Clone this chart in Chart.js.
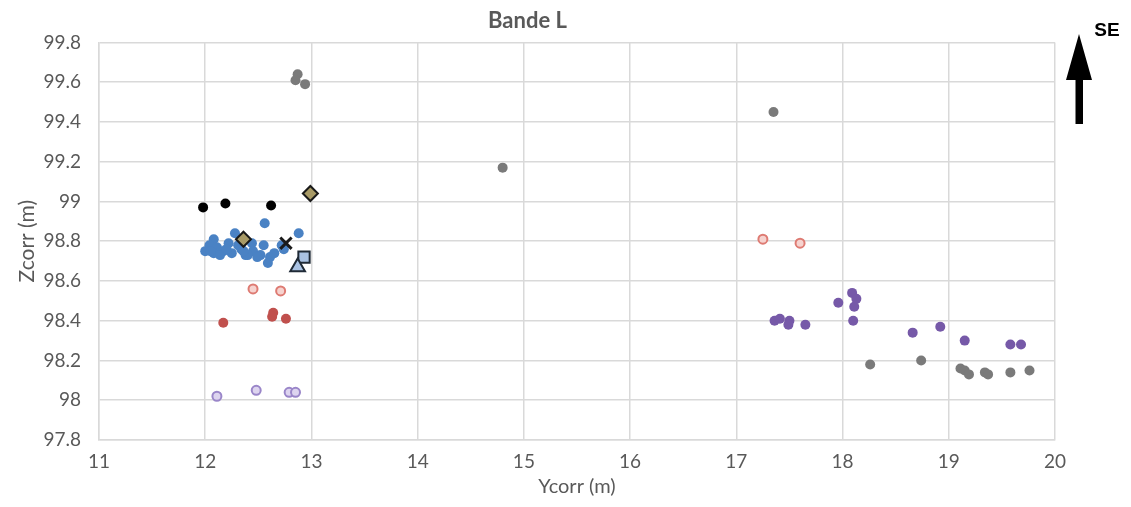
<!DOCTYPE html>
<html>
<head>
<meta charset="utf-8">
<script src="https://cdn.jsdelivr.net/npm/chart.js@4/dist/chart.umd.min.js"></script>
<style>
  html, body { margin: 0; padding: 0; background: #ffffff; }
  #wrap { width: 1131px; height: 507px; }
</style>
</head>
<body>
<div id="wrap"><canvas id="chart" width="1131" height="507"></canvas></div>
<script>
const xTicks = [11, 12, 13, 14, 15, 16, 17, 18, 19, 20];
const yTicks = [97.8, 98, 98.2, 98.4, 98.6, 98.8, 99, 99.2, 99.4, 99.6, 99.8];

// [Ycorr, Zcorr] pairs
const greyPts = [
  [12.87, 99.64], [12.85, 99.61], [12.94, 99.59], [14.80, 99.17], [17.35, 99.45],
  [18.26, 98.18], [18.74, 98.20], [19.11, 98.16], [19.15, 98.15], [19.19, 98.13],
  [19.34, 98.14], [19.37, 98.13], [19.58, 98.14], [19.76, 98.15]
];
const purplePts = [
  [17.36, 98.40], [17.41, 98.41], [17.50, 98.40], [17.49, 98.38], [17.65, 98.38],
  [17.96, 98.49], [18.09, 98.54], [18.13, 98.51], [18.11, 98.47], [18.10, 98.40],
  [18.66, 98.34], [18.92, 98.37], [19.15, 98.30], [19.58, 98.28], [19.68, 98.28]
];
const salmonOpenPts = [[17.25, 98.81], [17.60, 98.79], [12.45, 98.56], [12.71, 98.55]];
const redPts = [[12.17, 98.39], [12.64, 98.44], [12.63, 98.42], [12.76, 98.41]];
const lavenderOpenPts = [[12.11, 98.02], [12.48, 98.05], [12.79, 98.04], [12.85, 98.04]];
const blackPts = [[11.98, 98.97], [12.19, 98.99], [12.62, 98.98]];
const bluePts = [
  [12.56, 98.89], [12.28, 98.84], [12.88, 98.84], [12.08, 98.81], [12.22, 98.79],
  [12.04, 98.78], [12.00, 98.75], [12.11, 98.77], [12.17, 98.75], [12.25, 98.74],
  [12.08, 98.74], [12.34, 98.76], [12.44, 98.79], [12.45, 98.75], [12.55, 98.78],
  [12.52, 98.73], [12.61, 98.72], [12.59, 98.69], [12.38, 98.73], [12.72, 98.78],
  [12.74, 98.76], [12.14, 98.73], [12.49, 98.72], [12.31, 98.78], [12.40, 98.73],
  [12.05, 98.75], [12.20, 98.76], [12.36, 98.75], [12.65, 98.74]
];
const diamondPts = [[12.99, 99.04], [12.36, 98.81]];
const crossPts = [[12.76, 98.79]];
const squarePts = [[12.93, 98.72]];
const trianglePts = [[12.87, 98.67]];

const toXY = pts => pts.map(p => ({ x: p[0], y: p[1] }));

const GRID = '#d9d9d9';
const TEXT = '#595959';
const FONT = 'Lato, "Open Sans", sans-serif';

function series(label, pts, style) {
  return Object.assign({
    label: label,
    data: toXY(pts),
    pointRadius: 5,
    pointHoverRadius: 5,
    pointBorderWidth: 0,
    showLine: false
  }, style);
}

const datasets = [
  series('Triangle', trianglePts, { pointStyle: 'triangle', pointRadius: 8.5, pointBorderWidth: 2, backgroundColor: '#a9c2e3', borderColor: '#1f2a36' }),
  series('Carré', squarePts, { pointStyle: 'rect', pointRadius: 8, pointBorderWidth: 2, backgroundColor: '#a9c2e3', borderColor: '#1f2a36' }),
  series('Croix', crossPts, { pointStyle: 'crossRot', pointRadius: 8, pointBorderWidth: 3, backgroundColor: '#a89a66', borderColor: '#1a1a1a' }),
  series('Losange', diamondPts, { pointStyle: 'rectRot', pointRadius: 7.5, pointBorderWidth: 2, backgroundColor: '#a89a66', borderColor: '#1a1a1a' }),
  series('Noir', blackPts, { backgroundColor: '#000000', borderColor: '#000000' }),
  series('Rouge ouvert', salmonOpenPts, { pointRadius: 4.5, pointBorderWidth: 2, backgroundColor: '#f6d3cf', borderColor: '#de7b73' }),
  series('Rouge', redPts, { backgroundColor: '#c0504d', borderColor: '#c0504d' }),
  series('Lavande ouvert', lavenderOpenPts, { pointRadius: 4.5, pointBorderWidth: 2, backgroundColor: '#ddd4ef', borderColor: '#9a86c9' }),
  series('Bleu', bluePts, { backgroundColor: '#4a82c4', borderColor: '#4a82c4' }),
  series('Violet', purplePts, { backgroundColor: '#7659a8', borderColor: '#7659a8' }),
  series('Gris', greyPts, { backgroundColor: '#7a7a7a', borderColor: '#7a7a7a' })
];

// arrow with "SE" label in the top right corner
const arrowPlugin = {
  id: 'seArrow',
  afterDraw(chart) {
    const ctx = chart.ctx;
    ctx.save();
    ctx.fillStyle = '#000000';
    ctx.beginPath();
    ctx.moveTo(1079, 34);
    ctx.lineTo(1092, 80);
    ctx.lineTo(1083, 80);
    ctx.lineTo(1083, 124);
    ctx.lineTo(1075.5, 124);
    ctx.lineTo(1075.5, 80);
    ctx.lineTo(1066, 80);
    ctx.closePath();
    ctx.fill();
    ctx.font = 'bold 19px "Liberation Sans", Arial, sans-serif';
    ctx.textAlign = 'center';
    ctx.textBaseline = 'middle';
    ctx.fillText('SE', 1107, 31);
    ctx.restore();
  }
};

const bgPlugin = {
  id: 'bg',
  beforeDraw(chart) {
    const ctx = chart.ctx;
    ctx.save();
    ctx.fillStyle = '#ffffff';
    ctx.fillRect(0, 0, chart.width, chart.height);
    ctx.restore();
  }
};

new Chart(document.getElementById('chart'), {
  type: 'scatter',
  data: { datasets: datasets },
  plugins: [bgPlugin, arrowPlugin],
  options: {
    responsive: false,
    animation: false,
    layout: { padding: { left: 0, right: 76, top: 0, bottom: 0 } },
    plugins: {
      legend: { display: false },
      tooltip: { enabled: false },
      title: {
        display: true,
        text: 'Bande L',
        color: TEXT,
        font: { family: FONT, size: 22, weight: 'bold' },
        padding: { top: 8, bottom: 8 }
      }
    },
    scales: {
      x: {
        type: 'linear',
        min: 11,
        max: 20,
        afterBuildTicks: scale => { scale.ticks = xTicks.map(v => ({ value: v })); },
        afterFit: scale => { scale.height = 67; },
        ticks: {
          color: TEXT,
          padding: 10,
          maxRotation: 0,
          font: { family: FONT, size: 19 },
          callback: v => String(v)
        },
        grid: { color: GRID, lineWidth: 1.5, drawTicks: false },
        border: { color: GRID, width: 1.5 },
        title: {
          display: true,
          text: 'Ycorr (m)',
          color: TEXT,
          font: { family: FONT, size: 20 },
          padding: { top: 0, bottom: 8 }
        }
      },
      y: {
        type: 'linear',
        min: 97.8,
        max: 99.8,
        afterBuildTicks: scale => { scale.ticks = yTicks.map(v => ({ value: v })); },
        afterFit: scale => { scale.width = 99; },
        ticks: {
          color: TEXT,
          padding: 18,
          font: { family: FONT, size: 19 },
          callback: v => String(+v.toFixed(1))
        },
        grid: { color: GRID, lineWidth: 1.5, drawTicks: false },
        border: { color: GRID, width: 1.5 },
        title: {
          display: true,
          text: 'Zcorr (m)',
          color: TEXT,
          font: { family: FONT, size: 21 },
          padding: { top: 15, bottom: 0 }
        }
      }
    }
  }
});
</script>
</body>
</html>
